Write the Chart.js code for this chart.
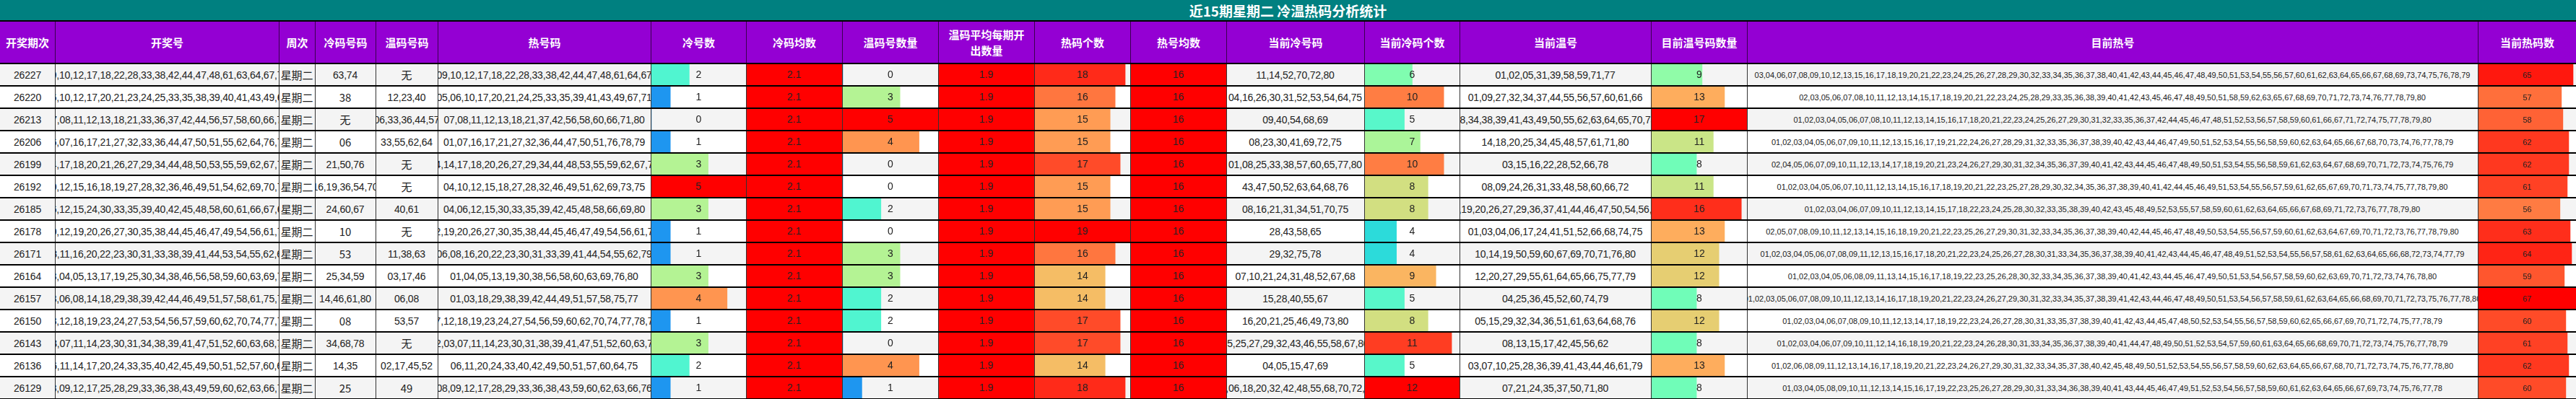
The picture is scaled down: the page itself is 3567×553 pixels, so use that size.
<!DOCTYPE html>
<html>
<head>
<meta charset="utf-8">
<script src="https://cdn.jsdelivr.net/npm/chart.js@4"></script>
<style>
  body { margin: 0; background: #fff; }
  #wrap { position: relative; width: 3567px; height: 553px; overflow: hidden; font-family: "Liberation Sans Narrow", "Liberation Sans", sans-serif; }
  .cell { position: absolute; box-sizing: border-box; display: flex; align-items: center; justify-content: center; text-align: center; color: #222; white-space: nowrap; overflow: hidden; }
  canvas { position: absolute; }
</style>
</head>
<body>
<div id="wrap"></div>
<script>
// 数据
const periods = ['26227','26220','26213','26206','26199','26192','26185','26178','26171','26164','26157','26150','26143','26136','26129'];
const drawNums = [
  '04,09,10,12,17,18,22,28,33,38,42,44,47,48,61,63,64,67,73,74',
  '05,06,10,12,17,20,21,23,24,25,33,35,38,39,40,41,43,49,67,71',
  '06,07,08,11,12,13,18,21,33,36,37,42,44,56,57,58,60,66,71,80',
  '01,06,07,16,17,21,27,32,33,36,44,47,50,51,55,62,64,76,78,79',
  '04,14,17,18,20,21,26,27,29,34,44,48,50,53,55,59,62,67,76,79',
  '04,10,12,15,16,18,19,27,28,32,36,46,49,51,54,62,69,70,73,75',
  '04,06,12,15,24,30,33,35,39,40,42,45,48,58,60,61,66,67,69,80',
  '05,10,12,19,20,26,27,30,35,38,44,45,46,47,49,54,56,61,72,77',
  '06,08,11,16,20,22,23,30,31,33,38,39,41,44,53,54,55,62,63,79',
  '01,03,04,05,13,17,19,25,30,34,38,46,56,58,59,60,63,69,76,80',
  '01,03,06,08,14,18,29,38,39,42,44,46,49,51,57,58,61,75,77,80',
  '07,08,12,18,19,23,24,27,53,54,56,57,59,60,62,70,74,77,78,79',
  '02,03,07,11,14,23,30,31,34,38,39,41,47,51,52,60,63,68,72,78',
  '02,06,11,14,17,20,24,33,35,40,42,45,49,50,51,52,57,60,64,75',
  '03,08,09,12,17,25,28,29,33,36,38,43,49,59,60,62,63,66,76,78'
];
const weekdays = Array(15).fill('星期二');
const coldNums = ['63,74','38','无','06','21,50,76','16,19,36,54,70','24,60,67','10','53','25,34,59','14,46,61,80','08','34,68,78','14,35','25'];
const warmNums = ['无','12,23,40','06,33,36,44,57','33,55,62,64','无','无','40,61','无','11,38,63','03,17,46','06,08','53,57','无','02,17,45,52','49'];
const hotNums = [
  '04,09,10,12,17,18,22,28,33,38,42,44,47,48,61,64,67,73',
  '05,06,10,17,20,21,24,25,33,35,39,41,43,49,67,71',
  '07,08,11,12,13,18,21,37,42,56,58,60,66,71,80',
  '01,07,16,17,21,27,32,36,44,47,50,51,76,78,79',
  '04,14,17,18,20,26,27,29,34,44,48,53,55,59,62,67,79',
  '04,10,12,15,18,27,28,32,46,49,51,62,69,73,75',
  '04,06,12,15,30,33,35,39,42,45,48,58,66,69,80',
  '05,12,19,20,26,27,30,35,38,44,45,46,47,49,54,56,61,72,77',
  '06,08,16,20,22,23,30,31,33,39,41,44,54,55,62,79',
  '01,04,05,13,19,30,38,56,58,60,63,69,76,80',
  '01,03,18,29,38,39,42,44,49,51,57,58,75,77',
  '07,12,18,19,23,24,27,54,56,59,60,62,70,74,77,78,79',
  '02,03,07,11,14,23,30,31,38,39,41,47,51,52,60,63,72',
  '06,11,20,24,33,40,42,49,50,51,57,60,64,75',
  '03,08,09,12,17,28,29,33,36,38,43,59,60,62,63,66,76,78'
];
const coldCount = [2,1,0,1,3,5,3,1,1,3,4,1,3,2,1];
const coldAvg = Array(15).fill(2.1);
const warmCount = [0,3,5,4,0,0,2,0,3,3,2,2,0,4,1];
const warmAvg = Array(15).fill(1.9);
const hotCount = [18,16,15,15,17,15,15,19,16,14,14,17,17,14,18];
const hotAvg = Array(15).fill(16);
const curCold = ['11,14,52,70,72,80','04,16,26,30,31,52,53,54,64,75','09,40,54,68,69','08,23,30,41,69,72,75','01,08,25,33,38,57,60,65,77,80','43,47,50,52,63,64,68,76','08,16,21,31,34,51,70,75','28,43,58,65','29,32,75,78','07,10,21,24,31,48,52,67,68','15,28,40,55,67','16,20,21,25,46,49,73,80','05,25,27,29,32,43,46,55,58,67,80','04,05,15,47,69','02,06,18,20,32,42,48,55,68,70,72,79'];
const curColdCount = [6,10,5,7,10,8,8,4,4,9,5,8,11,5,12];
const curWarm = ['01,02,05,31,39,58,59,71,77','01,09,27,32,34,37,44,55,56,57,60,61,66','19,28,34,38,39,41,43,49,50,55,62,63,64,65,70,73,76','14,18,20,25,34,45,48,57,61,71,80','03,15,16,22,28,52,66,78','08,09,24,26,31,33,48,58,60,66,72','05,19,20,26,27,29,36,37,41,44,46,47,50,54,56,74','01,03,04,06,17,24,41,51,52,66,68,74,75','10,14,19,50,59,60,67,69,70,71,76,80','12,20,27,29,55,61,64,65,66,75,77,79','04,25,36,45,52,60,74,79','05,15,29,32,34,36,51,61,63,64,68,76','08,13,15,17,42,45,56,62','03,07,10,25,28,36,39,41,43,44,46,61,79','07,21,24,35,37,50,71,80'];
const curWarmCount = [9,13,17,11,8,11,16,13,12,12,8,12,8,13,8];
const curHot = [
  '03,04,06,07,08,09,10,12,13,15,16,17,18,19,20,21,22,23,24,25,26,27,28,29,30,32,33,34,35,36,37,38,40,41,42,43,44,45,46,47,48,49,50,51,53,54,55,56,57,60,61,62,63,64,65,66,67,68,69,73,74,75,76,78,79',
  '02,03,05,06,07,08,10,11,12,13,14,15,17,18,19,20,21,22,23,24,25,28,29,33,35,36,38,39,40,41,42,43,45,46,47,48,49,50,51,58,59,62,63,65,67,68,69,70,71,72,73,74,76,77,78,79,80',
  '01,02,03,04,05,06,07,08,10,11,12,13,14,15,16,17,18,20,21,22,23,24,25,26,27,29,30,31,32,33,35,36,37,42,44,45,46,47,48,51,52,53,56,57,58,59,60,61,66,67,71,72,74,75,77,78,79,80',
  '01,02,03,04,05,06,07,09,10,11,12,13,15,16,17,19,21,22,24,26,27,28,29,31,32,33,35,36,37,38,39,40,42,43,44,46,47,49,50,51,52,53,54,55,56,58,59,60,62,63,64,65,66,67,68,70,73,74,76,77,78,79',
  '02,04,05,06,07,09,10,11,12,13,14,17,18,19,20,21,23,24,26,27,29,30,31,32,34,35,36,37,39,40,41,42,43,44,45,46,47,48,49,50,51,53,54,55,56,58,59,61,62,63,64,67,68,69,70,71,72,73,74,75,76,79',
  '01,02,03,04,05,06,07,10,11,12,13,14,15,16,17,18,19,20,21,22,23,25,27,28,29,30,32,34,35,36,37,38,39,40,41,42,44,45,46,49,51,53,54,55,56,57,59,61,62,65,67,69,70,71,73,74,75,77,78,79,80',
  '01,02,03,04,06,07,09,10,11,12,13,14,15,17,18,22,23,24,25,28,30,32,33,35,38,39,40,42,43,45,48,49,52,53,55,57,58,59,60,61,62,63,64,65,66,67,68,69,71,72,73,76,77,78,79,80',
  '02,05,07,08,09,10,11,12,13,14,15,16,18,19,20,21,22,23,25,26,27,29,30,31,32,33,34,35,36,37,38,39,40,42,44,45,46,47,48,49,50,53,54,55,56,57,59,60,61,62,63,64,67,69,70,71,72,73,76,77,78,79,80',
  '01,02,03,04,05,06,07,08,09,11,12,13,15,16,17,18,20,21,22,23,24,25,26,27,28,30,31,33,34,35,36,37,38,39,40,41,42,43,44,45,46,47,48,49,51,52,53,54,55,56,57,58,61,62,63,64,65,66,68,72,73,74,77,79',
  '01,02,03,04,05,06,08,09,11,13,14,15,16,17,18,19,22,23,25,26,28,30,32,33,34,35,36,37,38,39,40,41,42,43,44,45,46,47,49,50,51,53,54,56,57,58,59,60,62,63,69,70,71,72,73,74,76,78,80',
  '01,02,03,05,06,07,08,09,10,11,12,13,14,16,17,18,19,20,21,22,23,24,26,27,29,30,31,32,33,34,35,37,38,39,41,42,43,44,46,47,48,49,50,51,53,54,56,57,58,59,61,62,63,64,65,66,68,69,70,71,72,73,75,76,77,78,80',
  '01,02,03,04,06,07,08,09,10,11,12,13,14,17,18,19,22,23,24,26,27,28,30,31,33,35,37,38,39,40,41,42,43,44,45,47,48,50,52,53,54,55,56,57,58,59,60,62,65,66,67,69,70,71,72,74,75,77,78,79',
  '01,02,03,04,06,07,09,10,11,12,14,16,18,19,20,21,22,23,24,26,28,30,31,33,34,35,36,37,38,39,40,41,44,47,48,49,50,51,52,53,54,57,59,60,61,63,64,65,66,68,69,70,71,72,73,74,75,76,77,78,79',
  '01,02,06,08,09,11,12,13,14,16,17,18,19,20,21,22,23,24,26,27,29,30,31,32,33,34,35,37,38,40,42,45,48,49,50,51,52,53,54,55,56,57,58,59,60,62,63,64,65,66,67,68,70,71,72,73,74,75,76,77,78,80',
  '01,03,04,05,08,09,10,11,12,13,14,15,16,17,19,22,23,25,26,27,28,29,30,31,33,34,36,38,39,40,41,43,44,45,46,47,49,51,52,53,54,56,57,58,59,60,61,62,63,64,65,66,67,69,73,74,75,76,77,78'
];
const curHotCount = [65,57,58,62,62,61,56,63,64,59,67,60,61,62,60];

const title = '近15期星期二 冷温热码分析统计';
const headers = ['开奖期次','开奖号','周次','冷码号码','温码号码','热号码','冷号数','冷码均数','温码号数量','温码平均每期开<br>出数量','热码个数','热号均数','当前冷号码','当前冷码个数','当前温号','目前温号码数量','目前热号','当前热码数'];

// 列边界 (px)
const edges = [0,76,386,436,520,606,901,1033,1166,1299,1432,1565,1698,1889,2021,2286,2419,3431,3567];
const TITLE_H = 28, HEAD_TOP = 30, BODY_TOP = 88, ROW_H = 31;

// 每列: 文本列 or 数据条列
const columns = [
  {text: periods}, {text: drawNums}, {text: weekdays}, {text: coldNums}, {text: warmNums}, {text: hotNums},
  {bars: coldCount}, {bars: coldAvg}, {bars: warmCount}, {bars: warmAvg}, {bars: hotCount}, {bars: hotAvg},
  {text: curCold}, {bars: curColdCount}, {text: curWarm}, {bars: curWarmCount},
  {text: curHot, font: '11px "Liberation Sans"'}, {bars: curHotCount, font: '11px "Liberation Sans"'}
];

// 颜色刻度 (按占最大值比例)
const stops = [
  [0.2,'#1e96f0'],[0.33,'#2adada'],[0.4,'#50f5d0'],[0.47,'#70fdb8'],[0.53,'#90fca8'],[0.6,'#b4f394'],
  [0.67,'#d4de80'],[0.71,'#e8cc70'],[0.74,'#f7bb64'],[0.77,'#ffaa5c'],[0.8,'#ff9550'],[0.84,'#ff7840'],
  [0.89,'#ff4e2a'],[0.95,'#ff2818'],[1,'#ff0000']
];
function hex(c) { return [1,3,5].map(i => parseInt(c.substr(i,2),16)); }
function colorFor(t) {
  if (t <= stops[0][0]) return stops[0][1];
  for (let i = 1; i < stops.length; i++) {
    if (t <= stops[i][0]) {
      const [t0,c0] = stops[i-1], [t1,c1] = stops[i];
      const f = (t - t0) / (t1 - t0), a = hex(c0), b = hex(c1);
      return 'rgb(' + a.map((v,k) => Math.round(v + (b[k]-v)*f)).join(',') + ')';
    }
  }
  return '#ff0000';
}

const wrap = document.getElementById('wrap');
function addDiv(x, y, w, h, html, style) {
  const d = document.createElement('div');
  d.className = 'cell';
  Object.assign(d.style, {left: x+'px', top: y+'px', width: w+'px', height: h+'px'}, style || {});
  d.innerHTML = html;
  wrap.appendChild(d);
  return d;
}

// 标题
addDiv(0, 0, 3567, TITLE_H, title, {background: '#008080', color: '#fff', fontFamily: '"Noto Sans CJK SC", sans-serif', fontWeight: 'bold', fontSize: '19px'});
addDiv(0, TITLE_H, 3567, 2, '', {background: '#000'});

// 表头
headers.forEach((h, c) => {
  addDiv(edges[c], HEAD_TOP, edges[c+1]-edges[c], BODY_TOP-HEAD_TOP, h, {
    background: '#9400d3', color: '#fff', fontFamily: '"Noto Sans CJK SC", sans-serif', fontWeight: 'bold',
    fontSize: '15px', lineHeight: '22px', whiteSpace: 'normal', borderLeft: c ? '1px solid #3a0050' : 'none'
  });
});

// 表体背景与文本
for (let r = 0; r < 15; r++) {
  const y = BODY_TOP + r*ROW_H;
  addDiv(0, y, 3567, ROW_H, '', {background: r % 2 === 0 ? '#f4f4f4' : '#fff'});
}
columns.forEach((col, c) => {
  const x = edges[c], w = edges[c+1]-edges[c];
  if (c > 0) addDiv(x, BODY_TOP, 1, 15*ROW_H, '', {background: '#333', zIndex: 3});
  if (!col.text) return;
  col.text.forEach((t, r) => {
    addDiv(x, BODY_TOP + r*ROW_H, w, ROW_H, t, {
      font: col.font || (t.length > 3 && /^\d/.test(t) ? '14px "Liberation Sans Narrow", sans-serif' : '15px "Noto Sans CJK SC", "Liberation Sans Narrow", sans-serif'),
      letterSpacing: col.font ? '0' : '-0.2px'
    });
  });
});

// 行分隔线
for (let r = 0; r <= 15; r++) {
  addDiv(0, BODY_TOP + r*ROW_H - 1, 3567, 2, '', {background: '#000', zIndex: 4});
}

// 数据条: 每个数值列一个 Chart.js 横向条形图
const labelPlugin = {
  id: 'cellLabels',
  afterDatasetsDraw(chart, args, opts) {
    const ctx = chart.ctx, meta = chart.getDatasetMeta(0);
    ctx.save();
    ctx.font = opts.font;
    ctx.fillStyle = '#222';
    ctx.textAlign = 'center';
    ctx.textBaseline = 'middle';
    meta.data.forEach((bar, i) => {
      ctx.fillText(String(chart.data.datasets[0].data[i]), chart.width / 2, bar.y + 1);
    });
    ctx.restore();
  }
};

columns.forEach((col, c) => {
  if (!col.bars) return;
  const x = edges[c] + 1, w = edges[c+1] - edges[c] - 1;
  const cv = document.createElement('canvas');
  cv.width = w; cv.height = 15*ROW_H;
  cv.style.left = x + 'px'; cv.style.top = BODY_TOP + 'px'; cv.style.zIndex = 2;
  wrap.appendChild(cv);
  const max = Math.max(...col.bars);
  new Chart(cv.getContext('2d'), {
    type: 'bar',
    data: {
      labels: periods,
      datasets: [{
        data: col.bars,
        backgroundColor: col.bars.map(v => colorFor(v / max)),
        barPercentage: 1,
        categoryPercentage: 1,
        borderWidth: 0
      }]
    },
    options: {
      indexAxis: 'y',
      responsive: false,
      animation: false,
      devicePixelRatio: 1,
      layout: { padding: 0 },
      scales: {
        x: { display: false, min: 0, max: max },
        y: { display: false }
      },
      plugins: {
        legend: { display: false },
        tooltip: { enabled: false },
        cellLabels: { font: col.font || '14px "Liberation Sans Narrow", sans-serif' }
      }
    },
    plugins: [labelPlugin]
  });
});
</script>
</body>
</html>
